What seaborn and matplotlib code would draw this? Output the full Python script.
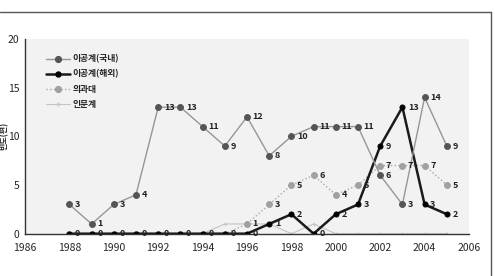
import numpy as np
import pandas as pd
import matplotlib
matplotlib.use('Agg')
import matplotlib.pyplot as plt
import seaborn as sns
from matplotlib.lines import Line2D

# --- data ---
YEARS = list(range(1988, 2006))
DOMESTIC = [3, 1, 3, 4, 13, 13, 11, 9, 12, 8, 10, 11, 11, 11, 6, 3, 14, 9]      # 이공계(국내)
OVERSEAS = [0, 0, 0, 0, 0, 0, 0, 0, 0, 1, 2, 0, 2, 3, 9, 13, 3, 2]             # 이공계(해외)
MEDICAL = [0, 0, 0, 0, 0, 0, 0, 0, 1, 3, 5, 6, 4, 5, 7, 7, 7, 5]               # 의과대
HUMANITIES = [0, 0, 0, 0, 0, 0, 0, 1, 1, 1, 0, 1, 0, 0, 0, 0, 0, 0]            # 인문계
SERIES_NAMES = ['이공계(국내)', '이공계(해외)', '의과대', '인문계']
X_TICKS = list(range(1986, 2007, 2))
Y_TICKS = [0, 5, 10, 15, 20]

sns.set_style('white')
plt.rcParams['font.family'] = ['Noto Sans CJK KR', 'DejaVu Sans']

df = pd.DataFrame({
    'year': YEARS * 4,
    'value': DOMESTIC + OVERSEAS + MEDICAL + HUMANITIES,
    'series': np.repeat(SERIES_NAMES, len(YEARS)),
})

# 스타일: 선색, 마커색, 선굵기, 선스타일, 마커, 마커크기, 라벨표시
STYLES = {
    '이공계(국내)': dict(color='#969696', mfc='#555555', lw=1.0, ls='-', marker='o', ms=4.2, label_mode='all'),
    '이공계(해외)': dict(color='#1a1a1a', mfc='#000000', lw=1.8, ls='-', marker='o', ms=3.6, label_mode='all'),
    '의과대': dict(color='#a8a8a8', mfc='#a0a0a0', lw=1.0, ls=':', marker='o', ms=4.2, label_mode='nonzero'),
    '인문계': dict(color='#c4c4c4', mfc='#c4c4c4', lw=0.8, ls='-', marker='+', ms=3.0, label_mode='none'),
}

fig = plt.figure(figsize=(4.95, 2.76), dpi=100)
ax = fig.add_axes([0.0505, 0.1533, 0.8970, 0.7054])
ax.set_facecolor('#f2f2f2')

for name in SERIES_NAMES[::-1]:
    st = STYLES[name]
    sub = df[df['series'] == name]
    sns.lineplot(data=sub, x='year', y='value', ax=ax, color=st['color'], lw=st['lw'],
                 linestyle=st['ls'], marker=st['marker'], markersize=st['ms'],
                 markerfacecolor=st['mfc'], markeredgecolor=st['mfc'], legend=False)
    for x, y in zip(sub['year'], sub['value']):
        if st['label_mode'] == 'none' or (st['label_mode'] == 'nonzero' and y == 0):
            continue
        ax.annotate(str(y), (x, y), xytext=(4, 0), textcoords='offset points',
                    ha='left', va='center', fontsize=6.5, fontweight='bold', color='#222222')

handles = []
for name in SERIES_NAMES:
    st = STYLES[name]
    handles.append(Line2D([], [], color=st['color'], lw=st['lw'], linestyle=st['ls'],
                          marker=st['marker'], markersize=st['ms'],
                          markerfacecolor=st['mfc'], markeredgecolor=st['mfc'], label=name))

leg = ax.legend(handles=handles, loc='upper left', bbox_to_anchor=(0.03, 0.96), frameon=False,
                fontsize=6.3, handlelength=2.7, handletextpad=0.3, labelspacing=0.68)
for t in leg.get_texts():
    t.set_fontweight('bold')
    t.set_color('#222222')

ax.set_xlim(1986, 2006)
ax.set_ylim(0, 20)
ax.set_xticks(X_TICKS)
ax.set_xticks(range(1986, 2007), minor=True)
ax.set_yticks(Y_TICKS)
ax.tick_params(axis='both', labelsize=7.5, length=2.5, direction='in', color='#333333', pad=4)
ax.tick_params(axis='x', pad=7)
ax.tick_params(axis='x', which='minor', length=2, direction='in')
ax.set_xlabel('')
ax.set_ylabel('빈도(편)', fontsize=5.8, fontweight='bold', va='center')
ax.yaxis.set_label_coords(-0.047, 0.5)
for s in ['top', 'right']:
    ax.spines[s].set_visible(False)
for s in ['left', 'bottom']:
    ax.spines[s].set_color('#333333')
    ax.spines[s].set_linewidth(1.0)

# 바깥 테두리
fig.add_artist(Line2D([0, 0.992], [0.9565, 0.9565], transform=fig.transFigure, color='#555555', lw=1.0))
fig.add_artist(Line2D([0.992, 0.992], [0, 0.9565], transform=fig.transFigure, color='#555555', lw=1.0))

fig.savefig('out.png', dpi=100)
